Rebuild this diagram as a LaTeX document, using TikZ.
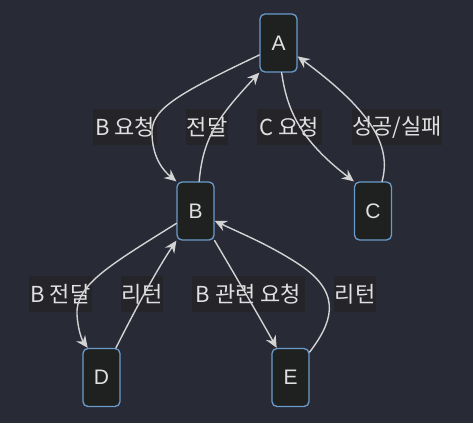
\documentclass[tikz,border=0pt]{standalone}
\usepackage{fontspec}
\setmainfont{Liberation Sans}
\newfontfamily\krfont{Noto Sans CJK KR}
\usetikzlibrary{arrows.meta}
\definecolor{bgcol}{HTML}{282A36}
\definecolor{nodefill}{HTML}{1F2020}
\definecolor{nodeline}{HTML}{6A9CCB}
\definecolor{lblfill}{HTML}{242429}
\definecolor{txtcol}{HTML}{E0E0E0}
\definecolor{edgecol}{HTML}{D3D3D3}

\begin{document}
\begin{tikzpicture}[x=1pt,y=-1pt,>={Stealth[length=12pt,width=11pt,inset=4pt]},line cap=round,line join=round,
  box/.style={draw=nodeline,fill=nodefill,line width=1.3pt,rounded corners=5pt,
    minimum width=37pt,minimum height=58pt,inner sep=0pt,text=txtcol,font=\fontsize{21}{24}\selectfont},
  lbl/.style={fill=lblfill,text=txtcol,inner sep=0pt,minimum height=36pt,font=\krfont\fontsize{22}{26}\selectfont},
  edge/.style={->,draw=edgecol,line width=1.4pt}]
  %--- Canvas ---------------------------------------------------------------
  \fill[bgcol] (0,0) rectangle (473,423);
  \useasboundingbox (0,0) rectangle (473,423);

  %--- Nodes ----------------------------------------------------------------
  \node[box] (A) at (278.5,43)  {A};
  \node[box] (B) at (195.5,211) {B};
  \node[box] (C) at (373,211)   {C};
  \node[box] (D) at (101.5,377.5) {D};
  \node[box] (E) at (290.5,377.5) {E};

  %--- Edge labels (lines run over them) -------------------------------------
  \node[lbl,minimum width=64pt]  (lAB) at (125,127)   {B 요청};
  \node[lbl,minimum width=42pt]  (lBA) at (207,127)   {전달};
  \node[lbl,minimum width=65pt]  (lAC) at (289.5,127) {C 요청};
  \node[lbl,minimum width=90pt]  (lCA) at (397,127)   {성공/실패};
  \node[lbl,minimum width=63pt]  (lBD) at (60.5,294)  {B 전달};
  \node[lbl,minimum width=42pt]  (lDB) at (142,294)   {리턴};
  \node[lbl,minimum width=113pt] (lBE) at (248.5,294) {B 관련 요청};
  \node[lbl,minimum width=42pt]  (lEB) at (355,294)   {리턴};

  %--- Connectors -----------------------------------------------------------
  \draw[edge] (A.212) .. controls (175,95) and (150,110) .. (152,135)
                      .. controls (153,160) and (165,172) .. (B.north west);
  \draw[edge] (B.83) .. controls (203,140) and (215,120) .. (A.south west);
  \draw[edge] (A.276) .. controls (287,110) and (300,140) .. (C.north west);
  \draw[edge] (C.73) .. controls (392,145) and (370,110) .. (A.325);

  \draw[edge] (B.213) .. controls (110,265) and (75,285) .. (77,315)
                      .. controls (78,330) and (82,340) .. (D.115);
  \draw[edge] (D.64) .. controls (140,300) and (160,265) .. (B.south west);
  \draw[edge] (B.south east) .. controls (235,275) and (260,318) .. (E.115);
  \draw[edge] (E.53) .. controls (330,325) and (345,295) .. (300,265)
                     .. controls (270,245) and (240,233) .. (B.333);
\end{tikzpicture}
\end{document}
